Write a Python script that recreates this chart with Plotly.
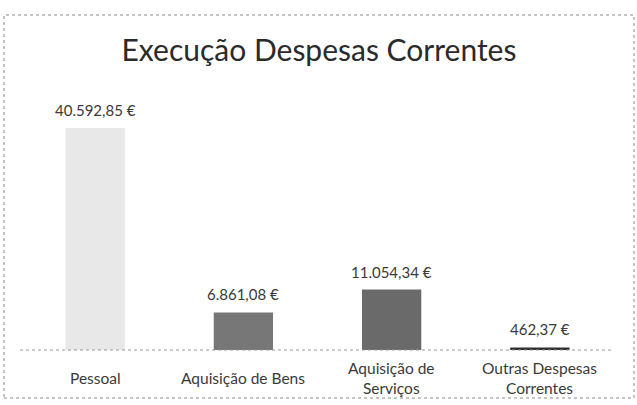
import plotly.graph_objects as go

categories = ["Pessoal", "Aquisição de Bens", "Aquisição de Serviços", "Outras Despesas Correntes"]
tick_labels = ["Pessoal", "Aquisição de Bens", "Aquisição de<br>Serviços", "Outras Despesas<br>Correntes"]
values = [40592.85, 6861.08, 11054.34, 462.37]
colors = ["#e8e8e8", "#777777", "#6a6a6a", "#2e2e2e"]

def fmt(v):
    s = f"{v:,.2f}"
    s = s.replace(",", "X").replace(".", ",").replace("X", ".")
    return s + " €"

labels = [fmt(v) for v in values]

W, H = 637, 405
def py(px):
    return (H - px) / H
def pxx(px):
    return px / W

FONT = "Lato, Open Sans, sans-serif"

fig = go.Figure(go.Bar(
    x=categories, y=values, marker=dict(color=colors, line=dict(width=0)),
    width=0.4, hoverinfo="x+y",
))

ann = [dict(x=c, y=py(378), xref="x", yref="paper", text=t, showarrow=False,
            yanchor="middle", xanchor="center", align="center",
            font=dict(family=FONT, size=15.5, color="#3a3a3a"))
       for c, t in zip(categories, tick_labels)]
ann += [dict(x=c, y=v, xref="x", yref="y", text=t, showarrow=False,
             yanchor="bottom", xanchor="center", yshift=7,
             font=dict(family=FONT, size=15, color="#3a3a3a"))
        for c, v, t in zip(categories, values, labels)]

fig.update_layout(
    width=W, height=H, margin=dict(l=0, r=0, t=0, b=0),
    paper_bgcolor="white", plot_bgcolor="white",
    showlegend=False,
    title=dict(text="Execução Despesas Correntes", x=pxx(319), xanchor="center",
               y=py(50), yanchor="middle",
               font=dict(family=FONT, size=30, color="#2a2a2a")),
    xaxis=dict(domain=[pxx(21), pxx(614)], showticklabels=False, showgrid=False,
               zeroline=False, showline=False, ticks=""),
    yaxis=dict(domain=[py(350), py(100)], range=[0, 45700], visible=False),
    annotations=ann,
    shapes=[
        dict(type="line", xref="paper", yref="paper", x0=pxx(20), x1=pxx(612),
             y0=py(350), y1=py(350), line=dict(color="#999999", width=1, dash="dot")),
        dict(type="rect", xref="paper", yref="paper", x0=pxx(4), x1=pxx(634),
             y0=py(398), y1=py(15), line=dict(color="#8a8a8a", width=1, dash="dot")),
    ],
)

fig.write_html("out.html", config={"displayModeBar": False},
               post_script="document.body.style.margin='0';")
